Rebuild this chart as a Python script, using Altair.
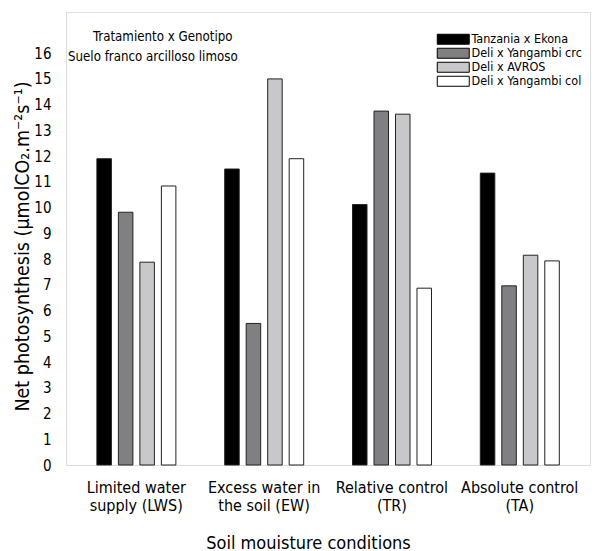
import altair as alt
import pandas as pd

categories = ["Limited water|supply (LWS)", "Excess water in|the soil (EW)",
              "Relative control|(TR)", "Absolute control|(TA)"]
genotypes = ["Tanzania x Ekona", "Deli x Yangambi crc", "Deli x AVROS", "Deli x Yangambi col"]
colors = ["#000000", "#808083", "#c8c8ca", "#ffffff"]

tanzania_ekona = [11.9, 11.5, 10.12, 11.34]
deli_yangambi_crc = [9.82, 5.5, 13.75, 6.96]
deli_avros = [7.88, 15.0, 13.63, 8.15]
deli_yangambi_col = [10.84, 11.9, 6.87, 7.93]

series = [tanzania_ekona, deli_yangambi_crc, deli_avros, deli_yangambi_col]
rows = []
for g, vals in zip(genotypes, series):
    for c, v in zip(categories, vals):
        rows.append({"cond": c, "geno": g, "value": v})
df = pd.DataFrame(rows)

FONT = "Liberation Sans Narrow, DejaVu Sans Condensed, Arial Narrow, sans-serif"

bars = alt.Chart(df).mark_bar(stroke="#222222", strokeWidth=1).encode(
    x=alt.X("cond:N", sort=categories,
            scale=alt.Scale(paddingInner=0, paddingOuter=0.05),
            axis=alt.Axis(title="Soil mouisture conditions", labelAngle=0,
                          labelExpr="split(datum.label, '|')",
                          ticks=False, domain=False, labelPadding=14,
                          labelFontSize=16, labelLineHeight=18,
                          titleFontSize=18, titleFontWeight="normal",
                          titleX=242, titleY=78, titleBaseline="middle")),
    xOffset=alt.XOffset("geno:N", sort=genotypes,
                        scale=alt.Scale(paddingInner=0.325, paddingOuter=0, range=[24.5, 103.5])),
    y=alt.Y("value:Q", scale=alt.Scale(domain=[0, 17.6], nice=False),
            axis=alt.Axis(title="Net photosynthesis (µmolCO₂.m⁻²s⁻¹)",
                          values=list(range(0, 17)), ticks=False, domain=False,
                          grid=False, labelPadding=15, labelFontSize=15,
                          titleFontSize=19.5, titleFontWeight="normal",
                          titleX=-44, titleY=234, titleBaseline="middle")),
    fill=alt.Fill("geno:N", sort=genotypes,
                  scale=alt.Scale(domain=genotypes, range=colors),
                  legend=alt.Legend(title=None, orient="none", legendX=381, legendY=21,
                                    symbolType="M-3.2,-1L3.2,-1L3.2,1L-3.2,1Z",
                                    symbolSize=100, symbolStrokeColor="black",
                                    symbolStrokeWidth=1, labelFontSize=12.5,
                                    labelOffset=12, rowPadding=-2, padding=0)),
)

notes = pd.DataFrame({"t": ["Tratamiento x Genotipo", "Suelo franco arcilloso limoso"],
                      "px": [27, 2], "py": [25, 45]})
text = alt.Chart(notes).mark_text(align="left", baseline="middle", fontSize=13.2, font=FONT).encode(
    text="t:N", x=alt.X("px:Q", scale=None), y=alt.Y("py:Q", scale=None)
)

chart = alt.layer(bars, text).properties(
    width=524, height=453,
    autosize=alt.AutoSizeParams(type="none"),
    padding={"left": 66, "top": 12, "right": 6, "bottom": 86},
).configure_view(stroke="black", strokeWidth=1.2).configure(
    font=FONT
).configure_axis(labelColor="black", titleColor="black", labelFont=FONT, titleFont=FONT
).configure_legend(labelFont=FONT, labelColor="black")

chart.save("out.html", embed_options={"renderer": "svg", "actions": False})
